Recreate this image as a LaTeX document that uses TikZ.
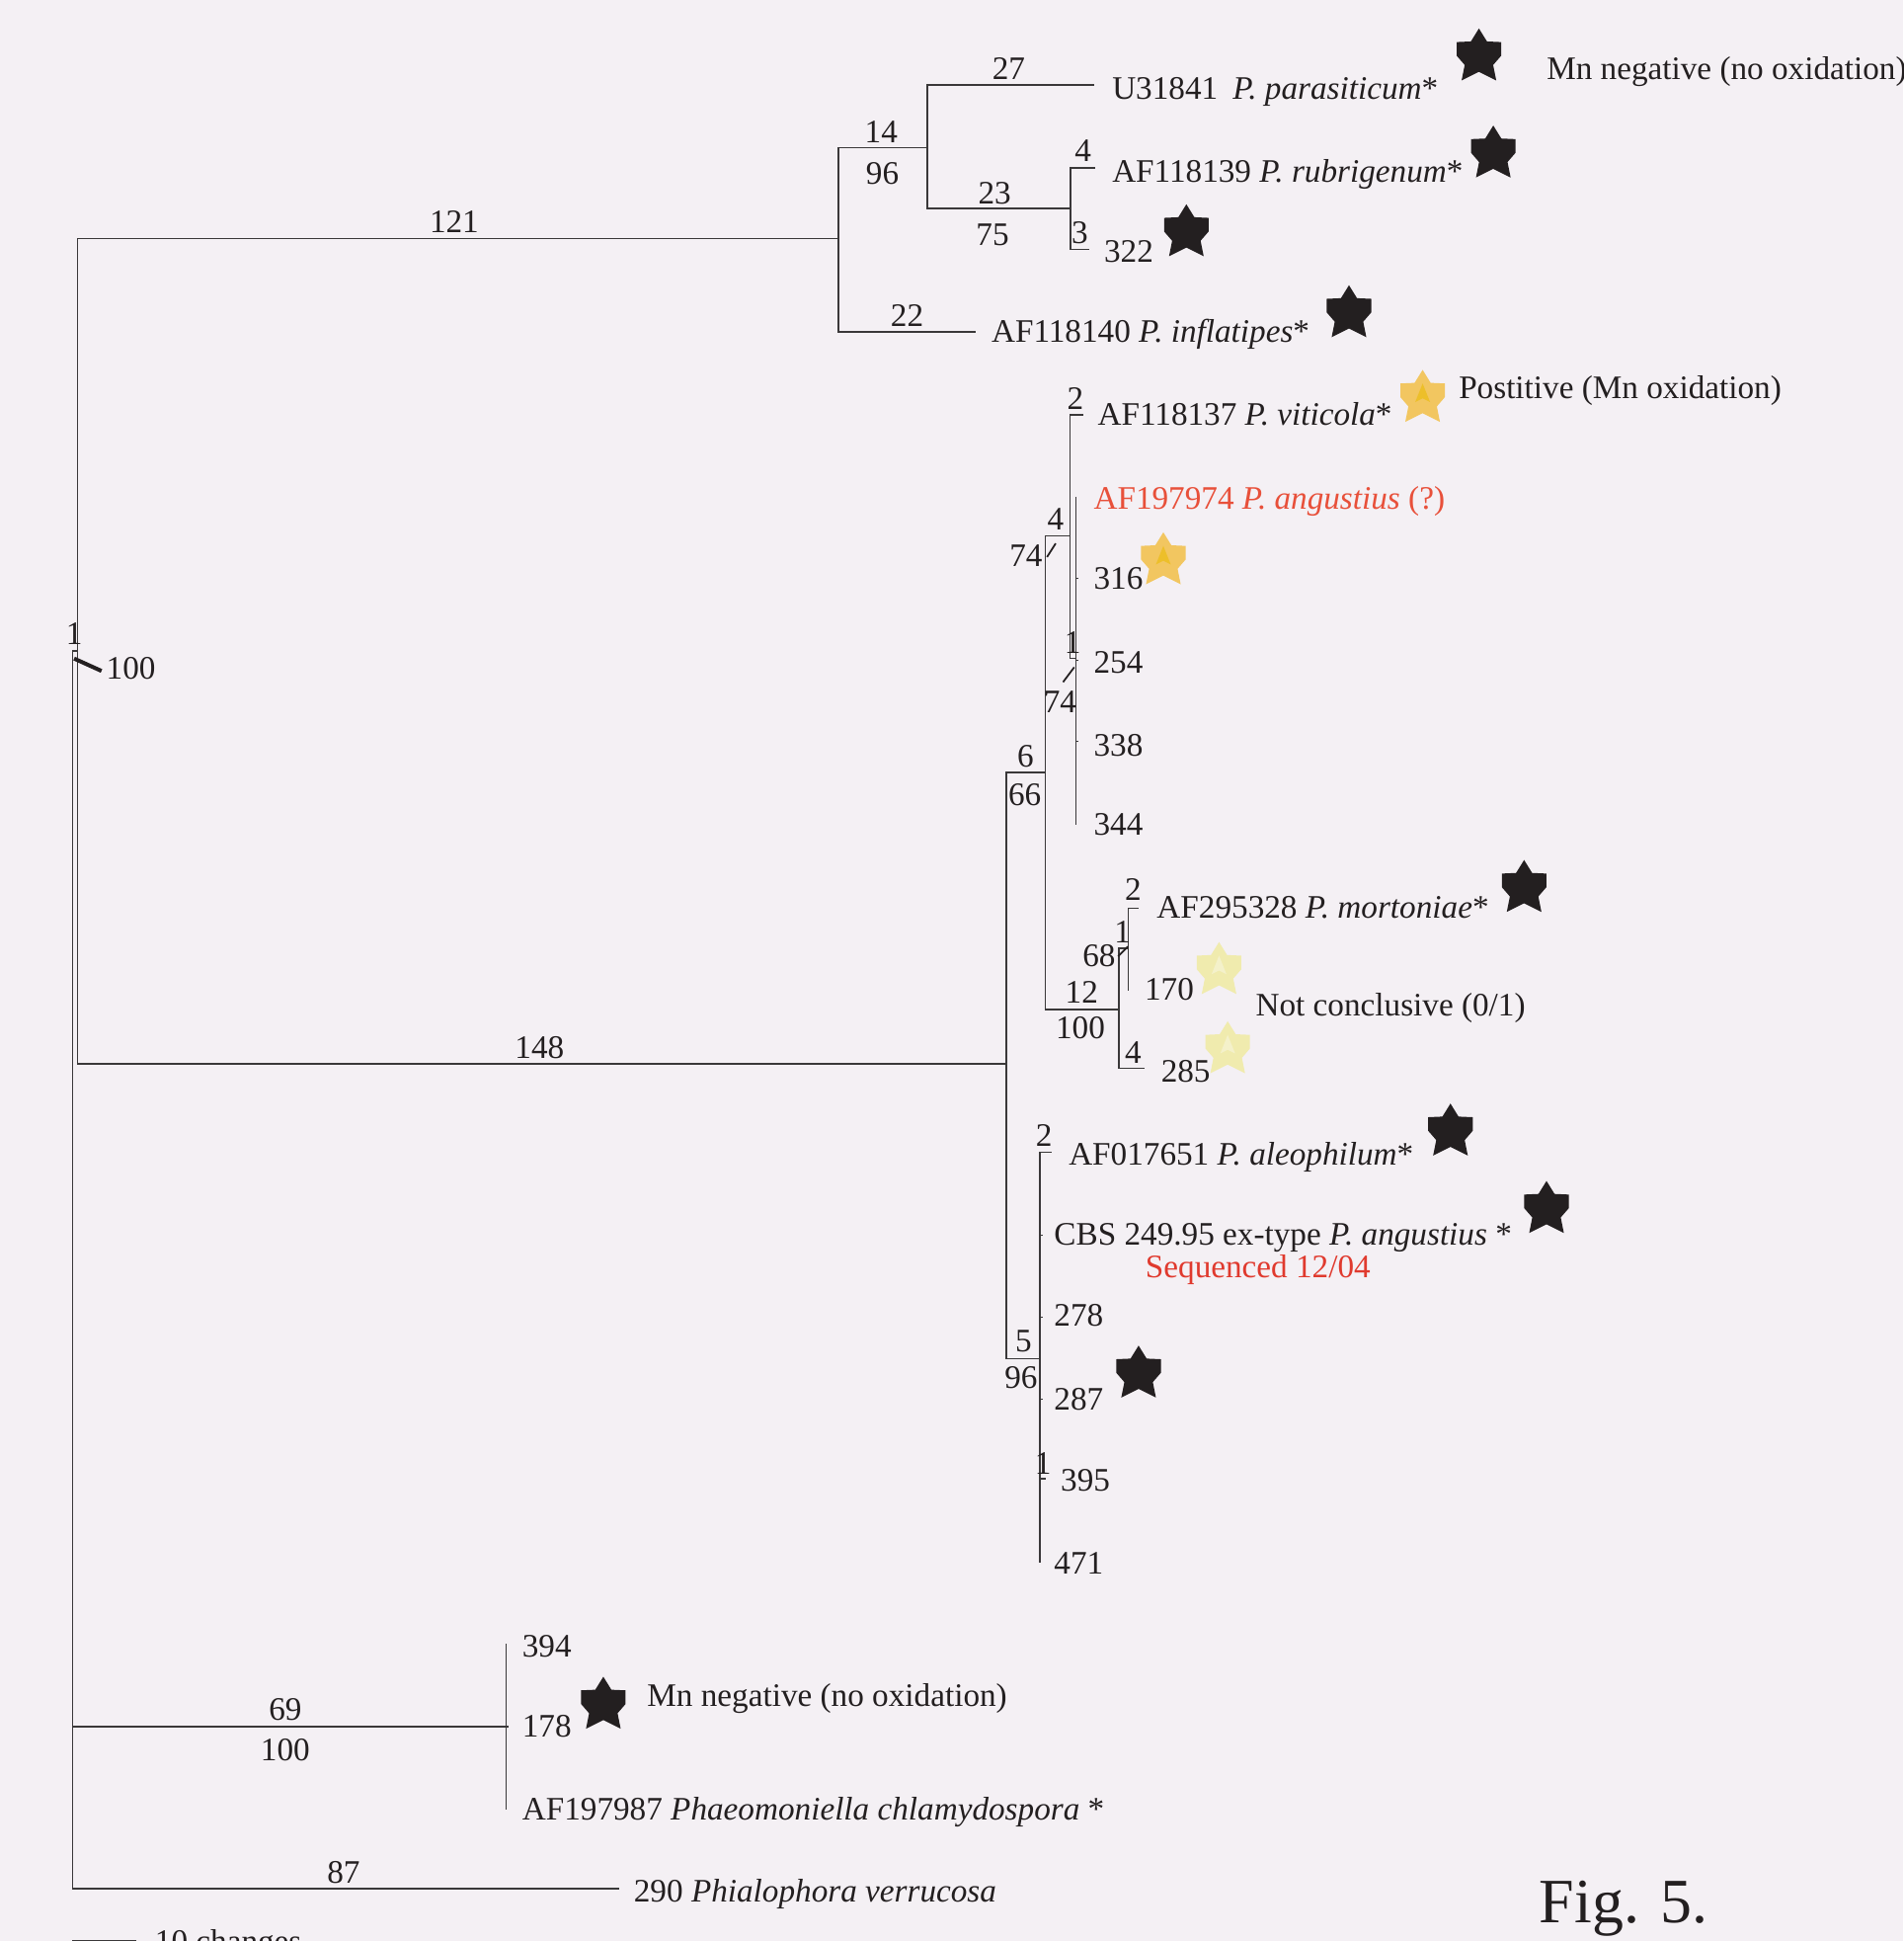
\documentclass[tikz,border=0pt]{standalone}
\usepackage{fontspec}
\setmainfont{Liberation Serif}
\definecolor{bg}{HTML}{F4F0F4}
\definecolor{ink}{HTML}{231F20}
\definecolor{lin}{HTML}{3A3839}
\definecolor{redA}{HTML}{E8503A}
\definecolor{redB}{HTML}{E03A2E}
\definecolor{ystar}{HTML}{F2C660}
\definecolor{ystarin}{HTML}{EDBF2A}
\definecolor{pstar}{HTML}{F0EBAE}
\definecolor{pstarin}{HTML}{F4F1CA}
\tikzset{
  br/.style={draw=lin, line width=1.1pt},
  tick/.style={draw=ink, line width=1.4pt},
  num/.style={font=\fontsize{26.5}{30}\selectfont, text=ink, inner sep=0pt, anchor=base},
  leaf/.style={num, anchor=base west},
  pics/mstar/.style n args={2}{code={
    \fill[#1] (0,-21) -- (6.5,-10.5) -- (18,-10) -- (18,1) -- (11.5,8.5) -- (14,21) -- (0,14)
      -- (-14,21) -- (-11.5,8.5) -- (-18,1) -- (-18,-10) -- (-6.5,-10.5) -- cycle;
    \fill[#2] (0,-10) -- (6,5) -- (0,2) -- (-6,5) -- cycle;
  }}
}
\begin{document}
\begin{tikzpicture}[x=1pt,y=-1pt]
\fill[bg] (0,0) rectangle (1538,1568);
\useasboundingbox (0,0) rectangle (1538,1568);

% ---------- tree coordinates ----------
\coordinate (R) at (58.5,526);
\coordinate (I) at (62.5,526);
\coordinate (A) at (677.5,192.9);
\coordinate (B) at (749.2,119.2);
\coordinate (Lpara) at (884,68.6);
\coordinate (C) at (865,168.4);
\coordinate (Lrub) at (885,135.7);
\coordinate (L322) at (880,201.7);
\coordinate (Linfl) at (788.6,268.2);
\coordinate (D) at (813,859.3);
\coordinate (E) at (844.6,623.9);
\coordinate (F) at (864.7,433);
\coordinate (Lvit) at (875.5,335.2);
\coordinate (G) at (869.3,532);
\coordinate (Gl1) at (869.3,401.5);
\coordinate (Gl2) at (871.5,467);
\coordinate (Gl3) at (871.5,533.4);
\coordinate (Gl4) at (871.5,599);
\coordinate (Gl5) at (869.3,666.5);
\coordinate (H) at (904,815.6);
\coordinate (K) at (911.6,766);
\coordinate (Lmort) at (920,733.5);
\coordinate (L170) at (911.6,800);
\coordinate (L285) at (925,863);
\coordinate (M) at (840.2,1097.5);
\coordinate (Ml1) at (850,931);
\coordinate (Ml2) at (842.5,997.7);
\coordinate (Ml3) at (842.5,1064.2);
\coordinate (Ml4) at (842.5,1130.2);
\coordinate (Ml5) at (845,1194.6);
\coordinate (Ml6) at (840.2,1262.4);
\coordinate (N) at (409,1394.9);
\coordinate (Nl1) at (409,1328);
\coordinate (Nl2) at (411,1394.9);
\coordinate (Nl3) at (409,1462);
\coordinate (L290) at (500.3,1525.8);
\coordinate (S1) at (58.5,1567.6);
\coordinate (S2) at (110,1567.6);

% ---------- branches ----------
\draw[br] (R) |- (I);
\draw[br] (I) |- (A);
\draw[br] (I) |- (D);
\draw[br] (A) |- (B);
\draw[br] (A) |- (Linfl);
\draw[br] (B) |- (Lpara);
\draw[br] (B) |- (C);
\draw[br] (C) |- (Lrub);
\draw[br] (C) |- (L322);
\draw[br] (D) |- (E);
\draw[br] (D) |- (M);
\draw[br] (E) |- (F);
\draw[br] (E) |- (H);
\draw[br] (F) |- (Lvit);
\draw[br] (F) |- (G);
\draw[br] (G) |- (Gl1);
\draw[br] (G) |- (Gl2);
\draw[br] (G) |- (Gl3);
\draw[br] (G) |- (Gl4);
\draw[br] (G) |- (Gl5);
\draw[br] (H) |- (K);
\draw[br] (H) |- (L285);
\draw[br] (K) |- (Lmort);
\draw[br] (K) |- (L170);
\draw[br] (M) |- (Ml1);
\draw[br] (M) |- (Ml2);
\draw[br] (M) |- (Ml3);
\draw[br] (M) |- (Ml4);
\draw[br] (M) |- (Ml5);
\draw[br] (M) |- (Ml6);
\draw[br] (R) |- (N);
\draw[br] (R) |- (L290);
\draw[br] (N) |- (Nl1);
\draw[br] (N) |- (Nl2);
\draw[br] (N) |- (Nl3);
\draw[br] (S1) -- (S2);

% ---------- slashes ----------
\coordinate (r1) at (59.9,532); \coordinate (r2) at (82,542);
\draw[draw=ink, line width=3.2pt] (r1) -- (r2);
\coordinate (a1) at (846,450); \coordinate (a2) at (853,439);
\draw[tick] (a1) -- (a2);
\coordinate (c1) at (859,551); \coordinate (c2) at (868,539);
\draw[tick] (c1) -- (c2);
\coordinate (d1) at (903.5,772.5); \coordinate (d2) at (911.4,764.6);
\draw[tick] (d1) -- (d2);

% ---------- labels: root ----------
\node[num] (b1r) at (59.9,520.9) {1};
\node[leaf] (s100a) at (85.7,548.6) {100};

% ---------- top clade ----------
\node[num] (b121) at (367,188) {121};
\node[num] (b14) at (712,115.7) {14};
\node[num] (s96a) at (713,149) {96};
\node[num] (b27) at (815,63.9) {27};
\node[leaf] (tpara) at (898.5,79.8) {U31841\hspace{12pt}\textit{P. parasiticum}*};
\node[leaf] (tneg1) at (1249.6,63.9) {Mn negative (no oxidation)};
\node[num] (b23) at (803.7,164.4) {23};
\node[num] (s75) at (802,198.2) {75};
\node[num] (b4a) at (875,130.4) {4};
\node[leaf] (trub) at (898.5,146.9) {AF118139 \textit{P. rubrigenum}*};
\node[num] (b3) at (872.5,196.3) {3};
\node[leaf] (t322) at (892,211.5) {322};
\node[num] (b22) at (733,263.4) {22};
\node[leaf] (tinfl) at (801,276.2) {AF118140 \textit{P. inflatipes}*};

% ---------- middle clade ----------
\node[num] (b148) at (436,855) {148};
\node[num] (b6) at (828.7,619.9) {6};
\node[num] (s66) at (828,650.5) {66};
\node[num] (b4b) at (853,428) {4};
\node[num, anchor=base east] (s74a) at (842.5,457.5) {74};
\node[num] (b2a) at (869,330.5) {2};
\node[leaf] (tvit) at (886.8,343.7) {AF118137 \textit{P. viticola}*};
\node[leaf] (tpos) at (1178.6,321.9) {Postitive (Mn oxidation)};
\node[leaf, text=redA] (tang) at (883.6,411) {AF197974 \textit{P. angustius} (?)};
\node[leaf] (t316) at (883.6,476) {316};
\node[num] (b1a) at (866.8,528) {1};
\node[leaf] (t254) at (883.6,544) {254};
\node[num] (s74b) at (856.5,576) {74};
\node[leaf] (t338) at (883.6,610.6) {338};
\node[leaf] (t344) at (883.6,674.4) {344};
\node[num] (b2b) at (915.5,727.7) {2};
\node[leaf] (tmort) at (934.6,741.6) {AF295328 \textit{P. mortoniae}*};
\node[num] (b1b) at (907,762) {1};
\node[num, anchor=base east] (s68) at (901.5,780.6) {68};
\node[leaf] (t170) at (924.7,808) {170};
\node[num] (b12) at (874,810) {12};
\node[num] (s100b) at (873,839.4) {100};
\node[leaf] (tnc) at (1014.5,820.6) {Not conclusive (0/1)};
\node[num] (b4c) at (915.5,858.8) {4};
\node[leaf] (t285) at (938,874) {285};
\node[num] (b2c) at (843.6,926) {2};
\node[leaf] (tale) at (863.4,941) {AF017651 \textit{P. aleophilum}*};
\node[leaf] (tcbs) at (851.6,1005.7) {CBS 249.95 ex-type \textit{P. angustius} *};
\node[leaf, text=redB] (tseq) at (925.4,1031.8) {Sequenced 12/04};
\node[leaf] (t278) at (851.6,1071.6) {278};
\node[num] (b5) at (827,1092) {5};
\node[num] (s96b) at (825,1121.4) {96};
\node[leaf] (t287) at (851.6,1138.7) {287};
\node[num] (b1c) at (842.7,1190.6) {1};
\node[leaf] (t395) at (857,1204.6) {395};
\node[leaf] (t471) at (851.6,1271.6) {471};

% ---------- bottom clade ----------
\node[leaf] (t394) at (421.8,1338.7) {394};
\node[leaf] (tneg2) at (522.8,1378.1) {Mn negative (no oxidation)};
\node[num] (b69) at (230.5,1390) {69};
\node[leaf] (t178) at (421.8,1403.4) {178};
\node[num] (s100c) at (230.5,1422) {100};
\node[leaf] (tphae) at (421.8,1470) {AF197987 \textit{Phaeomoniella chlamydospora} *};
\node[num] (b87) at (277.6,1521.3) {87};
\node[leaf] (tphia) at (512,1536.4) {290 \textit{Phialophora verrucosa}};
\node[leaf, font=\fontsize{51}{56}\selectfont] (tfig) at (1243.8,1553.2) {Fig. 5.};
\node[leaf] (tscale) at (125,1577) {10 changes};

% ---------- stars ----------
\pic at (1195,44) {mstar={ink}{ink}};
\pic at (1206.6,122.4) {mstar={ink}{ink}};
\pic at (958.6,186) {mstar={ink}{ink}};
\pic at (1090,251.4) {mstar={ink}{ink}};
\pic at (1231.5,715.7) {mstar={ink}{ink}};
\pic at (1172,912.5) {mstar={ink}{ink}};
\pic at (1249.6,975) {mstar={ink}{ink}};
\pic at (920,1108) {mstar={ink}{ink}};
\pic at (487.5,1375.5) {mstar={ink}{ink}};
\pic at (1149.5,319.8) {mstar={ystar}{ystarin}};
\pic at (940,451) {mstar={ystar}{ystarin}};
\pic at (985,782) {mstar={pstar}{pstarin}};
\pic at (992,846) {mstar={pstar}{pstarin}};
\end{tikzpicture}
\end{document}
